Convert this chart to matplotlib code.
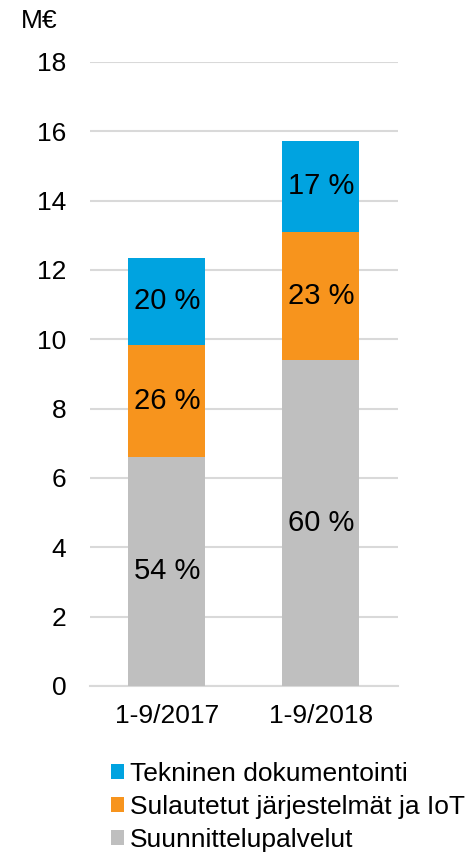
import matplotlib
matplotlib.use('Agg')
import matplotlib.pyplot as plt
import numpy as np

plt.rcParams['font.family'] = ['Liberation Sans', 'DejaVu Sans']

periods = ['1-9/2017', '1-9/2018']
series_names = ['Suunnittelupalvelut', 'Sulautetut järjestelmät ja IoT', 'Tekninen dokumentointi']
suunnittelu = [6.61, 9.40]
sulautetut = [3.23, 3.70]
tekninen = [2.51, 2.62]
pct_labels = [['54 %', '60 %'], ['26 %', '23 %'], ['20 %', '17 %']]
colors = ['#BFBFBF', '#F7941D', '#00A3E0']

fig = plt.figure(figsize=(4.72, 8.56), dpi=100)
ax = fig.add_axes([0.1907, 0.1986, 0.652, 0.7290])

x = np.arange(len(periods))
bottom = np.zeros(len(periods))
handles = []
for vals, name, col, labs in zip([suunnittelu, sulautetut, tekninen], series_names, colors, pct_labels):
    bars = ax.bar(x, vals, width=0.5, bottom=bottom, color=col, label=name, zorder=3)
    for b, lab in zip(bars, labs):
        ax.text(b.get_x() + b.get_width() / 2, b.get_y() + b.get_height() / 2, lab,
                ha='center', va='center', fontsize=21, color='black', zorder=4)
    handles.append(bars)
    bottom = bottom + np.array(vals)

ax.set_xlim(-0.5, 1.5)
ax.set_ylim(0, 18)
ax.set_yticks(range(0, 19, 2))
ax.set_xticks(x)
ax.set_xticklabels(periods)
ax.tick_params(axis='both', length=0, labelsize=19)
ax.tick_params(axis='y', pad=17)
ax.tick_params(axis='x', pad=13)
ax.yaxis.grid(True, color='#D9D9D9', linewidth=1.5, zorder=0)
for s in ['top', 'right', 'left']:
    ax.spines[s].set_visible(False)
ax.spines['bottom'].set_color('#D9D9D9')
ax.spines['bottom'].set_linewidth(1.5)

fig.text(0.045, 0.975, 'M€', fontsize=19, ha='left', va='center')

leg = fig.legend(handles[::-1], series_names[::-1], loc='upper left',
                 bbox_to_anchor=(0.213, 0.122), frameon=False, fontsize=19,
                 handlelength=0.5, handleheight=0.5, handletextpad=0.2,
                 labelspacing=0.33, borderaxespad=0)

fig.savefig('out.png', dpi=100)
